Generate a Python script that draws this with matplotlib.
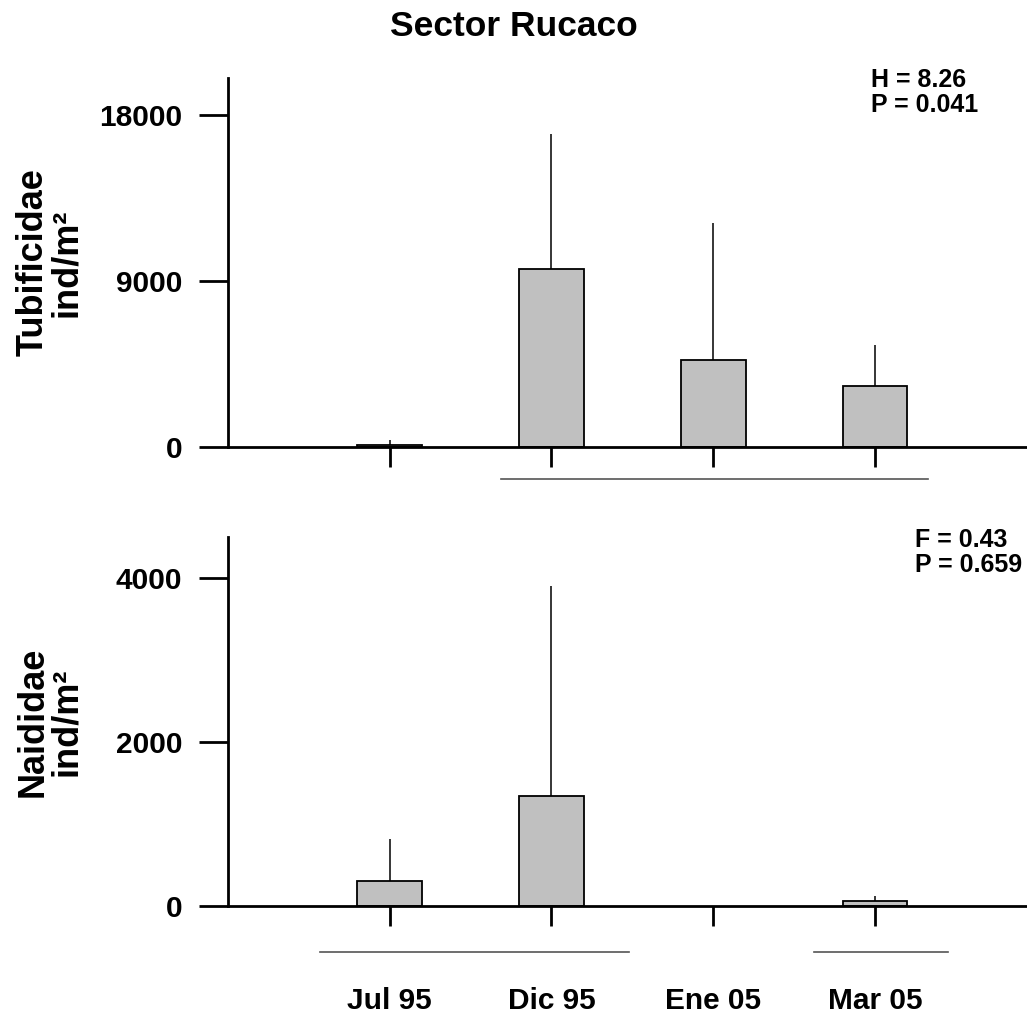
import matplotlib
matplotlib.use("Agg")
import matplotlib.pyplot as plt
import matplotlib.transforms as mtransforms
import numpy as np

plt.rcParams['font.family'] = ['Liberation Sans', 'DejaVu Sans']
plt.rcParams['font.weight'] = 'bold'

# datos
meses = ["Jul 95", "Dic 95", "Ene 05", "Mar 05"]
tubificidae = [100, 9620, 4680, 3270]
tubificidae_err = [270, 7330, 7430, 2220]
naididae = [305, 1345, 0, 60]
naididae_err = [515, 2555, 0, 65]

# grupos homogeneos (lineas debajo del eje), en unidades de categoria
grupos_tub = [(0.69, 3.33)]
grupos_nai = [(-0.43, 1.48), (2.62, 3.45)]

estad_tub = "H = 8.26\nP = 0.041"
estad_nai = "F = 0.43\nP = 0.659"

W, H = 1027, 1016
fig = plt.figure(figsize=(W / 100, H / 100), dpi=100)

def panel(rect, valores, errores, ymax, yticks, etiqueta, grupos, texto, pos_texto, grupo_y, con_labels):
    ax = fig.add_axes(rect)
    x = np.arange(len(meses))
    v = np.array(valores, dtype=float)
    # barras con valor cero no se ven en el original
    visibles = v > 0
    ax.bar(x[visibles], v[visibles], width=0.4, color="#c0c0c0", edgecolor="black",
           linewidth=1.3, zorder=2)
    ax.errorbar(x[visibles], v[visibles],
                yerr=[np.zeros(visibles.sum()), np.array(errores)[visibles]], fmt="none",
                ecolor="black", elinewidth=1.1, capsize=0, zorder=3)
    ax.set_xlim(-1, 3.94)
    ax.set_ylim(0, ymax)
    ax.set_yticks(yticks)
    ax.set_yticklabels([str(t) for t in yticks], fontsize=21.5, fontweight="bold")
    ax.set_xticks(x)
    if con_labels:
        ax.set_xticklabels(meses, fontsize=21.5, fontweight="bold")
        desplaza = mtransforms.ScaledTranslation(0.07, 0, fig.dpi_scale_trans)
        for lab in ax.get_xticklabels():
            lab.set_transform(lab.get_transform() + desplaza)
    else:
        ax.set_xticklabels([])
    for s in ["top", "right"]:
        ax.spines[s].set_visible(False)
    for s in ["left", "bottom"]:
        ax.spines[s].set_linewidth(2)
    ax.tick_params(axis="y", length=21, width=2, pad=12)
    ax.tick_params(axis="x", length=14.5, width=2, pad=44)
    ax.set_ylabel(etiqueta, fontsize=26, fontweight="bold", linespacing=0.95)
    ax.yaxis.set_label_coords(-0.18, 0.5)
    trans = mtransforms.blended_transform_factory(ax.transData, ax.transAxes)
    for a, b in grupos:
        ax.plot([a, b], [grupo_y, grupo_y], color="#555555", linewidth=1.2,
                transform=trans, clip_on=False)
    ax.text(pos_texto[0], pos_texto[1], texto, transform=fig.transFigure,
            fontsize=18, fontweight="bold", ha="left", va="top", linespacing=1.05)
    return ax

top = panel([228 / W, 1 - 446.7 / H, 1 - 228 / W, 368.7 / H], tubificidae, tubificidae_err,
            20000, [0, 9000, 18000], "Tubificidae\nind/m²", grupos_tub,
            estad_tub, (871 / W, 1 - 68 / H), -0.088, False)
bot = panel([228 / W, 1 - 906 / H, 1 - 228 / W, 369 / H], naididae, naididae_err,
            4500, [0, 2000, 4000], "Naididae\nind/m²", grupos_nai,
            estad_nai, (915 / W, 1 - 528 / H), -0.124, True)

fig.text(514 / W, 1 - 26 / H, "Sector Rucaco", fontsize=25.5, fontweight="bold",
         ha="center", va="center")

fig.savefig("out.png", dpi=100)
